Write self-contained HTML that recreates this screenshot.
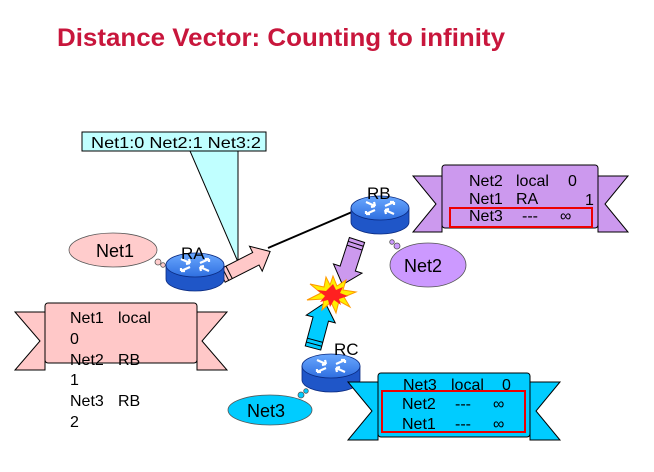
<!DOCTYPE html>
<html><head><meta charset="utf-8"><style>
body{margin:0;background:#fff;}
text{font-family:"Liberation Sans",Arial,sans-serif;white-space:pre;}
</style></head><body>
<svg width="654" height="467" viewBox="0 0 654 467" xmlns="http://www.w3.org/2000/svg">
<defs>
<linearGradient id="rt" x1="0" y1="0" x2="0" y2="1"><stop offset="0" stop-color="#6aa8ff"/><stop offset="1" stop-color="#2f6fe0"/></linearGradient>
<g id="router">
<path d="M-29,0 L-29,14 A29,12 0 0 0 29,14 L29,0 Z" fill="#1f56c8" stroke="#0a2a80" stroke-width="0.8"/>
<ellipse cx="0" cy="0" rx="29" ry="12" fill="url(#rt)" stroke="#0a2a80" stroke-width="0.8"/>
<g stroke="#fff" stroke-width="2.2" fill="none">
<path d="M-14,-6 L-5,-2 M-5,-2 l-1,-4 M-5,-2 l-4,1"/>
<path d="M14,-6 L5,-2 M14,-6 l-4,0 M14,-6 l0,3"/>
<path d="M-14,6 L-5,2 M-14,6 l4,0 M-14,6 l0,-3"/>
<path d="M14,6 L5,2 M5,2 l1,4 M5,2 l4,-1"/>
</g>
</g>
</defs>
<text x="57" y="46" font-size="25" font-weight="bold" fill="#c8163c" textLength="448" lengthAdjust="spacingAndGlyphs">Distance Vector: Counting to infinity</text>

<!-- callout -->
<polygon points="190,151 238,151 238,262" fill="#c0ffff" stroke="#000" stroke-width="1"/>
<rect x="82" y="132" width="184" height="19" fill="#c0ffff" stroke="#000" stroke-width="1"/>
<text x="91" y="148" font-size="16" textLength="170" lengthAdjust="spacingAndGlyphs">Net1:0 Net2:1 Net3:2</text>

<!-- link -->
<line x1="268" y1="248" x2="352" y2="212" stroke="#000" stroke-width="2"/>

<!-- pink arrow -->
<g transform="translate(222,276) rotate(-27)">
<polygon points="0,-7 38,-7 38,-14 54,0 38,14 38,7 0,7" fill="#ffc8c8" stroke="#000" stroke-width="1"/>
<line x1="4" y1="-7" x2="4" y2="7" stroke="#000" stroke-width="1"/><line x1="8" y1="-7" x2="8" y2="7" stroke="#000" stroke-width="1"/>
</g>

<!-- Net1 cloud -->
<g fill="#ffcccc" stroke="#555" stroke-width="0.8">
<ellipse cx="113" cy="250" rx="44" ry="17"/>
<circle cx="158" cy="262" r="3"/><circle cx="163" cy="265" r="2.3"/>
</g>
<text x="96" y="257" font-size="18">Net1</text>

<use href="#router" x="195" y="265"/>
<text x="181" y="259" font-size="17">RA</text>

<!-- RB -->
<use href="#router" x="380" y="208"/>
<text x="367" y="199" font-size="17">RB</text>

<!-- Net2 cloud -->
<g fill="#cc99ff" stroke="#555" stroke-width="0.8">
<ellipse cx="428" cy="265" rx="38" ry="22"/>
<circle cx="397" cy="246" r="3"/><circle cx="392" cy="242" r="2.3"/>
</g>
<text x="404" y="272" font-size="18">Net2</text>

<!-- purple banner -->
<g fill="#cc99ee" stroke="#000" stroke-width="1">
<polygon points="413,176 442,176 442,232 413,232 436,204"/>
<polygon points="628,176 598,176 598,232 628,232 605,204"/>
<rect x="442" y="165" width="156" height="63" rx="3"/>
</g>
<g font-size="16">
<text x="469" y="186">Net2</text><text x="516" y="186">local</text><text x="568" y="186">0</text>
<text x="469" y="204">Net1</text><text x="516" y="204">RA</text><text x="585" y="205">1</text>
<text x="469" y="221">Net3</text><text x="522" y="221">---</text><text x="560" y="221">∞</text>
</g>
<rect x="450" y="208" width="142" height="19" fill="none" stroke="#e00" stroke-width="2"/>

<!-- purple arrow down -->
<g transform="translate(357,240) rotate(108)">
<polygon points="0,-8 30,-8 30,-15 47,0 30,15 30,8 0,8" fill="#cc99ee" stroke="#000" stroke-width="1"/>
<line x1="4" y1="-8" x2="4" y2="8" stroke="#000"/><line x1="8" y1="-8" x2="8" y2="8" stroke="#000"/>
</g>
<!-- cyan arrow up -->
<g transform="translate(313,348) rotate(-75)">
<polygon points="0,-8 30,-8 30,-15 47,0 30,15 30,8 0,8" fill="#00ccff" stroke="#000" stroke-width="1"/>
<line x1="4" y1="-8" x2="4" y2="8" stroke="#000"/><line x1="8" y1="-8" x2="8" y2="8" stroke="#000"/>
</g>
<!-- explosion -->
<polygon points="333,276 337,286 346,280 343,290 356,292 344,297 350,307 339,301 336,313 331,302 322,310 324,299 307,300 321,293 310,284 324,287 326,277 330,285" fill="#ffee00" stroke="#ff9900"/>
<polygon points="333,284 336,290 343,287 340,293 348,296 339,299 341,305 334,300 330,307 328,300 320,302 325,296 317,290 326,291" fill="#ff2020"/>

<!-- RC -->
<use href="#router" x="331" y="366"/>
<text x="334" y="355" font-size="17">RC</text>

<!-- Net3 cloud -->
<g fill="#00ccff" stroke="#555" stroke-width="0.8">
<ellipse cx="270" cy="410" rx="42" ry="15"/>
<circle cx="301" cy="395" r="3"/><circle cx="306" cy="391" r="2.3"/>
</g>
<text x="247" y="417" font-size="18">Net3</text>

<!-- cyan banner -->
<g fill="#00ccff" stroke="#000" stroke-width="1">
<polygon points="348,382 378,382 378,440 348,440 372,411"/>
<polygon points="560,382 530,382 530,440 560,440 536,411"/>
<rect x="378" y="373" width="152" height="64" rx="3"/>
</g>
<g font-size="16">
<text x="403" y="390">Net3</text><text x="451" y="390">local</text><text x="502" y="390">0</text>
<text x="402" y="409">Net2</text><text x="455" y="409">---</text><text x="493" y="409">∞</text>
<text x="402" y="429">Net1</text><text x="455" y="429">---</text><text x="493" y="429">∞</text>
</g>
<rect x="382" y="391" width="143" height="41" fill="none" stroke="#e00" stroke-width="2"/>

<!-- pink banner -->
<g fill="#ffc8c8" stroke="#000" stroke-width="1">
<polygon points="15,312 45,312 45,370 15,370 40,341"/>
<polygon points="227,312 197,312 197,370 227,370 202,341"/>
<rect x="45" y="303" width="152" height="60" rx="3"/>
</g>
<g font-size="16">
<text x="70" y="323">Net1</text><text x="118" y="323">local</text>
<text x="70" y="344">0</text>
<text x="70" y="365">Net2</text><text x="118" y="365">RB</text>
<text x="70" y="385">1</text>
<text x="70" y="406">Net3</text><text x="118" y="406">RB</text>
<text x="70" y="427">2</text>
</g>
</svg>
</body></html>
